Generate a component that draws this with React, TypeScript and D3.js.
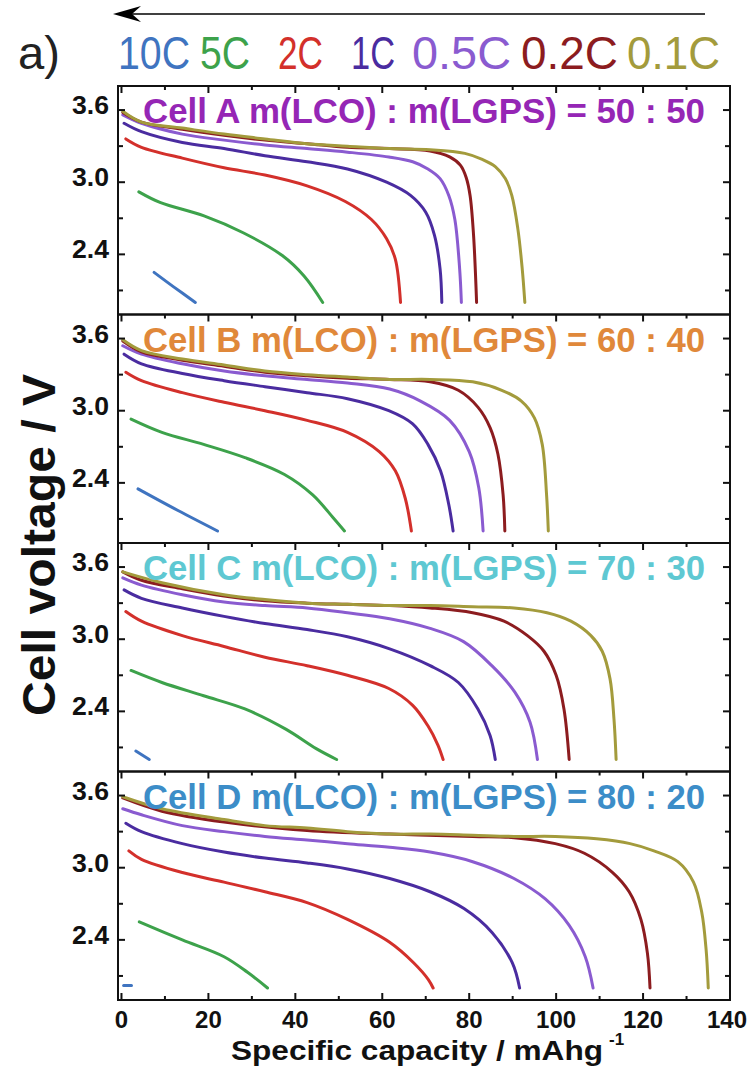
import * as d3 from "d3";

// discharge rates, left-to-right in the legend
const rates = ["10C", "5C", "2C", "1C", "0.5C", "0.2C", "0.1C"];
const rateColors = ["#3f74c0", "#3da24b", "#d3302b", "#4a2ca0", "#8a5bd0", "#8c1c1f", "#a39b3c"];

const panelTitles = [
  "Cell A m(LCO) : m(LGPS) = 50 : 50",
  "Cell B m(LCO) : m(LGPS) = 60 : 40",
  "Cell C m(LCO) : m(LGPS) = 70 : 30",
  "Cell D m(LCO) : m(LGPS) = 80 : 20",
];
const titleColors = ["#9526b5", "#e0883a", "#5ec8d2", "#3c8dc8"];

const xTicks = [0, 20, 40, 60, 80, 100, 120, 140];
const xMinor = [10, 30, 50, 70, 90, 110, 130];
const yTicks = [3.6, 3.0, 2.4];
const yMinor = [3.3, 2.7, 2.1];

// [capacity mAh/g, voltage V], one list per rate (10C ... 0.1C)
const cellA: [number, number][][] = [
  [[7.5, 2.25], [12, 2.13], [17, 2.0]],
  [[4, 2.92], [9, 2.83], [19, 2.72], [28, 2.58], [37, 2.39], [42, 2.22], [46.3, 2.0]],
  [[1, 3.36], [4.6, 3.29], [14, 3.2], [23.6, 3.12], [33, 3.06], [42.7, 2.97], [51.5, 2.84], [57.5, 2.69], [61, 2.53], [63, 2.36], [64.2, 2.0]],
  [[0.6, 3.49], [4.6, 3.42], [14, 3.33], [23.6, 3.28], [33, 3.22], [42.7, 3.17], [52, 3.11], [61, 3.0], [66.5, 2.89], [70, 2.75], [72, 2.56], [73.3, 2.28], [73.7, 2.0]],
  [[0.3, 3.56], [4.6, 3.49], [14, 3.4], [23.6, 3.35], [33, 3.31], [42.7, 3.28], [52, 3.25], [61.5, 3.21], [67, 3.17], [70.5, 3.11], [73.3, 3.03], [75.3, 2.89], [76.7, 2.69], [77.8, 2.28], [78.2, 2.0]],
  [[0.3, 3.58], [4.6, 3.5], [14, 3.44], [23.6, 3.39], [33, 3.35], [42.7, 3.32], [52, 3.29], [61.7, 3.28], [71, 3.26], [75.5, 3.21], [78, 3.14], [79.3, 3.04], [80.2, 2.89], [81, 2.56], [81.7, 2.0]],
  [[0.3, 3.59], [4.6, 3.5], [14, 3.45], [23.6, 3.4], [33, 3.36], [42.7, 3.32], [52, 3.3], [61.7, 3.28], [71, 3.27], [79, 3.24], [83, 3.19], [86, 3.13], [88.3, 3.03], [89.8, 2.89], [91.2, 2.61], [92.2, 2.28], [92.8, 2.0]],
];

const cellB: [number, number][][] = [
  [[3.8, 2.35], [13, 2.17], [22.1, 2.0]],
  [[2.2, 2.93], [9.3, 2.82], [18.9, 2.72], [28.4, 2.61], [37.5, 2.47], [44, 2.3], [48.7, 2.11], [51.3, 2.0]],
  [[1, 3.32], [4.6, 3.25], [14, 3.15], [23.6, 3.07], [33, 3.0], [42.7, 2.92], [52, 2.82], [59.3, 2.66], [63, 2.5], [65.3, 2.27], [66.7, 2.0]],
  [[0.6, 3.47], [4.6, 3.39], [14, 3.31], [23.6, 3.25], [33, 3.2], [42.7, 3.15], [52, 3.1], [61.5, 3.0], [67, 2.89], [70.5, 2.72], [73.4, 2.5], [75.3, 2.22], [76.3, 2.0]],
  [[0.3, 3.54], [4.6, 3.47], [14, 3.39], [23.6, 3.33], [33, 3.29], [42.7, 3.26], [52, 3.23], [61.7, 3.18], [68.8, 3.08], [75.5, 2.92], [80, 2.66], [82.2, 2.36], [83.2, 2.0]],
  [[0.3, 3.58], [4.6, 3.49], [14, 3.42], [23.6, 3.37], [33, 3.32], [42.7, 3.29], [52, 3.27], [61.7, 3.26], [71, 3.24], [77.5, 3.17], [82, 3.03], [84.8, 2.86], [86.6, 2.64], [87.8, 2.3], [88.2, 2.0]],
  [[0.3, 3.59], [4.6, 3.5], [14, 3.43], [23.6, 3.38], [33, 3.33], [42.7, 3.3], [52, 3.28], [61.7, 3.26], [71, 3.26], [80.8, 3.24], [87.5, 3.17], [92, 3.08], [95, 2.94], [96.8, 2.72], [97.8, 2.3], [98.2, 2.0]],
];

const cellC: [number, number][][] = [
  [[3.3, 2.07], [6.4, 2.0]],
  [[2.2, 2.74], [9.3, 2.64], [18.9, 2.53], [28.4, 2.42], [37.9, 2.25], [44.8, 2.09], [49.5, 2.0]],
  [[1, 3.23], [4.6, 3.15], [14, 3.03], [23.6, 2.94], [33, 2.85], [42.7, 2.78], [52, 2.7], [61.5, 2.59], [67, 2.45], [70.5, 2.28], [72.8, 2.12], [74, 2.0]],
  [[0.6, 3.41], [4.6, 3.34], [14, 3.26], [23.6, 3.19], [33, 3.13], [42.7, 3.08], [52, 3.02], [61.7, 2.92], [71, 2.78], [77.5, 2.64], [82, 2.42], [84.8, 2.2], [86, 2.0]],
  [[0.3, 3.51], [4.6, 3.45], [14, 3.37], [23.6, 3.31], [33, 3.28], [42.7, 3.26], [52, 3.22], [61.7, 3.17], [71, 3.09], [78.7, 2.98], [85.2, 2.78], [90.5, 2.56], [94, 2.31], [95.7, 2.0]],
  [[0.3, 3.56], [4.6, 3.49], [14, 3.42], [23.6, 3.36], [33, 3.32], [42.7, 3.3], [52, 3.29], [61.7, 3.28], [71, 3.26], [80.8, 3.22], [88, 3.15], [93.4, 3.03], [97.2, 2.9], [100, 2.7], [101.8, 2.42], [103, 2.0]],
  [[0.3, 3.56], [9.3, 3.47], [23.6, 3.37], [33, 3.33], [42.7, 3.3], [52, 3.29], [61.7, 3.28], [71, 3.28], [80.8, 3.27], [90.3, 3.26], [97.9, 3.22], [103.4, 3.15], [108, 3.03], [110.6, 2.9], [112.4, 2.67], [113.3, 2.34], [113.8, 2.0]],
];

const cellD: [number, number][][] = [
  [[0.5, 2.02], [2.3, 2.02]],
  [[4.1, 2.55], [14, 2.4], [23.6, 2.26], [29, 2.13], [33.6, 2.0]],
  [[1.7, 3.14], [4.6, 3.07], [14, 2.96], [23.6, 2.88], [33, 2.8], [42.7, 2.71], [52, 2.57], [61.7, 2.38], [67.2, 2.21], [70.6, 2.07], [71.7, 2.0]],
  [[1, 3.37], [4.6, 3.3], [14, 3.2], [23.6, 3.13], [33, 3.08], [42.7, 3.04], [52, 2.99], [61.7, 2.91], [71, 2.8], [78.8, 2.66], [85.3, 2.46], [89.9, 2.21], [91.6, 2.0]],
  [[0.3, 3.49], [4.6, 3.44], [14, 3.35], [23.6, 3.3], [33, 3.26], [42.7, 3.23], [52, 3.2], [61.7, 3.17], [71, 3.13], [80.8, 3.05], [90.3, 2.91], [97.5, 2.74], [103, 2.52], [106.7, 2.26], [108.5, 2.0]],
  [[0.3, 3.58], [9.3, 3.47], [23.6, 3.38], [42.7, 3.31], [61.7, 3.28], [80.8, 3.26], [90.3, 3.25], [99.8, 3.2], [106.5, 3.12], [113, 2.96], [116.8, 2.8], [119.5, 2.57], [121, 2.29], [121.6, 2.0]],
  [[0.3, 3.59], [9.3, 3.49], [23.6, 3.4], [33, 3.35], [42.7, 3.33], [52, 3.3], [61.7, 3.28], [71, 3.28], [80.8, 3.27], [90.3, 3.26], [99.8, 3.26], [109.3, 3.24], [117, 3.2], [122.5, 3.14], [128, 3.05], [131.6, 2.88], [133.5, 2.63], [134.5, 2.32], [135, 2.0]],
];

const cells = [cellA, cellB, cellC, cellD];

const W = 748;
const H = 1069;
const FONT = "'Liberation Sans', Arial, Helvetica, sans-serif";

// legend label start x / width
const legendX = [118, 200, 278, 351, 412, 521, 627];
const legendW = [72, 50, 45, 44, 99, 97, 93];

export default function App() {
  const left = 118;
  const right = 730;
  const top0 = 86;
  const ph = 228.5;

  const x = d3.scaleLinear().domain([-0.8, 140]).range([left, right]);
  const line = d3.line<[number, number]>().curve(d3.curveCatmullRom.alpha(0.5));

  return (
    <svg width={W} height={H} style={{ position: "absolute", left: 0, top: 0, background: "#fff" }} fontFamily={FONT}>
      {/* arrow */}
      <line x1={705} x2={126} y1={14} y2={14} stroke="#000" strokeWidth={1.6} />
      <path d="M113,14 L141,6 L132,14 L141,22 Z" fill="#000" />

      <text x={18} y={69} fontSize={46} fill="#222" textLength={42} lengthAdjust="spacingAndGlyphs">a)</text>
      {rates.map((r, i) => (
        <text key={r} x={legendX[i]} y={69} fontSize={46} fill={rateColors[i]}
          textLength={legendW[i]} lengthAdjust="spacingAndGlyphs">{r}</text>
      ))}

      {cells.map((cell, pi) => {
        const top = top0 + pi * ph;
        const y = d3.scaleLinear().domain([1.9, 3.8]).range([top + ph, top]);
        const gen = line.x((d) => x(d[0])).y((d) => y(d[1]));
        return (
          <g key={pi}>
            {cell.map((pts, ri) => (
              <path key={ri} d={gen(pts) || ""} fill="none" stroke={rateColors[ri]}
                strokeWidth={3} strokeLinecap="round" strokeLinejoin="round" />
            ))}
            <text x={143} y={top + 37} fontSize={35} fontWeight="bold" fill={titleColors[pi]}
              textLength={562} lengthAdjust="spacingAndGlyphs">{panelTitles[pi]}</text>
            <rect x={left} y={top} width={right - left} height={ph} fill="none" stroke="#111" strokeWidth={2} />
            {xTicks.map((t) => (
              <g key={"xt" + t}>
                <line x1={x(t)} x2={x(t)} y1={top} y2={top + 7} stroke="#111" strokeWidth={2} />
                {pi === 3 && <line x1={x(t)} x2={x(t)} y1={top + ph} y2={top + ph - 7} stroke="#111" strokeWidth={2} />}
              </g>
            ))}
            {xMinor.map((t) => (
              <g key={"xm" + t}>
                <line x1={x(t)} x2={x(t)} y1={top} y2={top + 4} stroke="#111" strokeWidth={2} />
                {pi === 3 && <line x1={x(t)} x2={x(t)} y1={top + ph} y2={top + ph - 4} stroke="#111" strokeWidth={2} />}
              </g>
            ))}
            {yTicks.map((t) => (
              <g key={"yt" + t}>
                <line x1={left} x2={left + 7} y1={y(t)} y2={y(t)} stroke="#111" strokeWidth={2} />
                <line x1={right} x2={right - 7} y1={y(t)} y2={y(t)} stroke="#111" strokeWidth={2} />
                <text x={109} y={y(t) + 4} fontSize={25} fontWeight="bold" textAnchor="end" fill="#111"
                  textLength={37} lengthAdjust="spacingAndGlyphs">
                  {t.toFixed(1)}
                </text>
              </g>
            ))}
            {yMinor.map((t) => (
              <g key={"ym" + t}>
                <line x1={left} x2={left + 5} y1={y(t)} y2={y(t)} stroke="#111" strokeWidth={2} />
                <line x1={right} x2={right - 5} y1={y(t)} y2={y(t)} stroke="#111" strokeWidth={2} />
              </g>
            ))}
          </g>
        );
      })}

      {xTicks.map((t, i) => {
        const last = i === xTicks.length - 1;
        return (
          <text key={"xl" + t} x={last ? W - 1 : x(t)} y={1028} fontSize={24} fontWeight="bold"
            textAnchor={last ? "end" : "middle"} fill="#111">
            {t}
          </text>
        );
      })}
      <text x={231} y={1060} fontSize={28} fontWeight="bold" fill="#111">
        <tspan textLength={372} lengthAdjust="spacingAndGlyphs">Specific capacity / mAhg</tspan>
        <tspan dx={6} dy={-15} fontSize={17}>-1</tspan>
      </text>
      <text transform="translate(55,545) rotate(-90)" fontSize={46} fontWeight="bold" textAnchor="middle"
        fill="#111" textLength={342} lengthAdjust="spacingAndGlyphs">
        Cell voltage / V
      </text>
    </svg>
  );
}
